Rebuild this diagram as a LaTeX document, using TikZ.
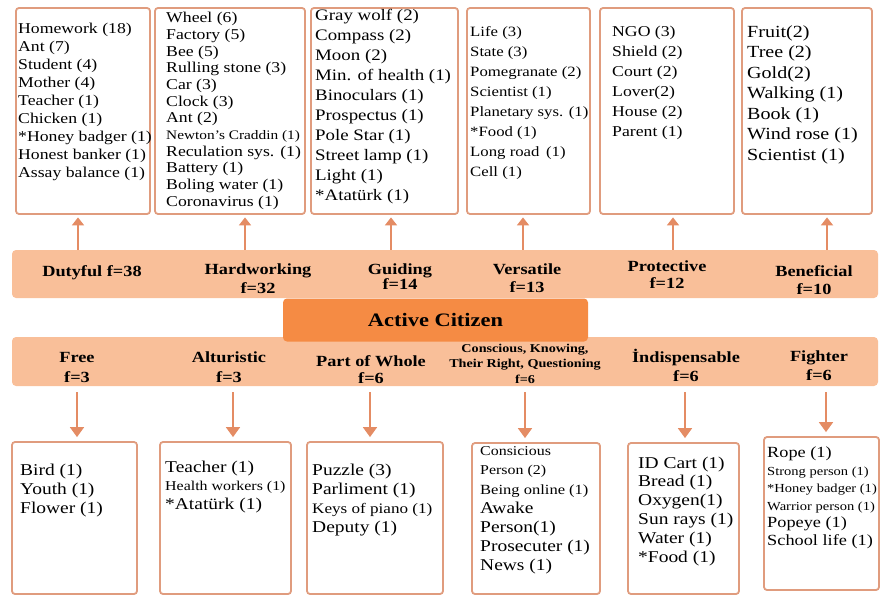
\documentclass[tikz,border=0pt]{standalone}
\usepackage{fontspec}
\setmainfont[FakeStretch=1.18]{Liberation Serif}
\usepackage{xcolor}
\usepackage{tikz}
\usetikzlibrary{arrows.meta}

\definecolor{bandorange}{RGB}{249,191,153}
\definecolor{citizenorange}{RGB}{245,139,68}
\definecolor{boxline}{RGB}{224,156,126}
\definecolor{arrowline}{RGB}{228,140,100}

\newcommand{\fs}[2]{\fontsize{#1}{#2}\selectfont}

\begin{document}
\begin{tikzpicture}[x=1pt, y=-1pt,
  listbox/.style={draw=boxline, line width=1.8pt, rounded corners=3pt, inner sep=0pt},
  listtext/.style={anchor=north west, inner sep=0pt, align=left},
  band/.style={fill=bandorange, rounded corners=4pt, inner sep=0pt},
  bandlabel/.style={inner sep=0pt, align=center, font=\fs{15.5}{19}\bfseries},
  uparrow/.style={draw=arrowline, line width=1.8pt, -{Triangle[width=12pt,length=8pt]}, shorten >=2.5pt},
  downarrow/.style={draw=arrowline, line width=1.8pt, -{Triangle[width=14pt,length=10pt]}, shorten <=6pt, shorten >=4pt}]

\useasboundingbox (0,0) rectangle (880,596);

\node[listbox, minimum width=134pt, minimum height=206pt] (t1) at (83,111) {};
\node[listbox, minimum width=150pt, minimum height=206pt] (t2) at (230,111) {};
\node[listbox, minimum width=147pt, minimum height=206pt] (t3) at (384.5,111) {};
\node[listbox, minimum width=123pt, minimum height=206pt] (t4) at (528.5,111) {};
\node[listbox, minimum width=134pt, minimum height=206pt] (t5) at (667,111) {};
\node[listbox, minimum width=130pt, minimum height=206pt] (t6) at (807,111) {};

\node[listtext, font=\fs{15}{18}] (dutyfullist) at (18,23) {Homework (18)\\Ant (7)\\Student (4)\\Mother (4)\\Teacher (1)\\Chicken (1)\\*Honey badger (1)\\Honest banker (1)\\Assay balance (1)};
\node[listtext, font=\fs{15}{16.7}] (hardlist) at (166,12) {Wheel (6)\\Factory (5)\\Bee (5)\\Rulling stone (3)\\Car (3)\\Clock (3)\\Ant (2)\\{\fs{13}{16.7}Newton's Craddin (1)}\\Reculation sys. (1)\\Battery (1)\\Boling water (1)\\Coronavirus (1)};
\node[listtext, font=\fs{16}{20}] (guidelist) at (315,8.6) {Gray wolf (2)\\Compass (2)\\Moon (2)\\Min. of health (1)\\Binoculars (1)\\Prospectus (1)\\Pole Star (1)\\Street lamp (1)\\Light (1)\\*Atatürk (1)};
\node[listtext, font=\fs{14.2}{20}] (versatilelist) at (470,26.3) {Life (3)\\State (3)\\Pomegranate (2)\\Scientist (1)\\Planetary sys. (1)\\*Food (1)\\Long road\, (1)\\Cell (1)};
\node[listtext, font=\fs{15}{20}] (protectlist) at (612,26) {NGO (3)\\Shield (2)\\Court (2)\\Lover(2)\\House (2)\\Parent (1)};
\node[listtext, font=\fs{17}{20.5}] (benefitlist) at (747,25.2) {Fruit(2)\\Tree (2)\\Gold(2)\\Walking (1)\\Book (1)\\Wind rose (1)\\Scientist (1)};

\node[band, minimum width=866pt, minimum height=48pt] (tband) at (445,274) {};
\node[band, minimum width=866pt, minimum height=49pt] (bband) at (445,361.5) {};
\node[band, fill=citizenorange, minimum width=305pt, minimum height=43pt, font=\fs{19}{22}\bfseries] (citizen) at (435.5,320) {Active Citizen};

\node[bandlabel] (dutyful) at (92,273) {Dutyful f=38};
\node[bandlabel] (hardworking) at (258,278.5) {Hardworking\\f=32};
\node[bandlabel, font=\fs{15.5}{13}\bfseries] (guiding) at (400,276.5) {Guiding\\f=14};
\node[bandlabel, font=\fs{15.5}{18}\bfseries] (versatile) at (527,278) {Versatile\\f=13};
\node[bandlabel, font=\fs{15.5}{17}\bfseries] (protective) at (667,274.5) {Protective\\f=12};
\node[bandlabel, font=\fs{15.5}{18}\bfseries] (beneficial) at (814,280) {Beneficial\\f=10};

\node[bandlabel, font=\fs{15.5}{20}\bfseries] (free) at (77,367) {Free\\f=3};
\node[bandlabel, font=\fs{15.5}{20}\bfseries] (alturistic) at (229,367) {Alturistic\\f=3};
\node[bandlabel, font=\fs{15.5}{17}\bfseries] (partwhole) at (371,369.5) {Part of Whole\\f=6};
\node[bandlabel, font=\fs{12}{15.5}\bfseries] (conscious) at (525,363.5) {Conscious, Knowing,\\Their Right, Questioning\\f=6};
\node[bandlabel] (indispensable) at (686,365.5) {İndispensable\\f=6};
\node[bandlabel] (fighter) at (819,365.5) {Fighter\\f=6};

\node[listbox, minimum width=125pt, minimum height=152pt] (b1) at (74.5,518) {};
\node[listbox, minimum width=131pt, minimum height=152pt] (b2) at (225.5,518) {};
\node[listbox, minimum width=136pt, minimum height=152pt] (b3) at (375,518) {};
\node[listbox, minimum width=128pt, minimum height=151pt] (b4) at (536,518.5) {};
\node[listbox, minimum width=111pt, minimum height=151pt] (b5) at (683.5,518.5) {};
\node[listbox, minimum width=115pt, minimum height=153pt] (b6) at (821.5,513.5) {};

\node[listtext, font=\fs{16.5}{19}] (freelist) at (20,463.4) {Bird (1)\\Youth (1)\\Flower (1)};
\node[listtext, font=\fs{16.5}{18.5}] (alturlist) at (165,460.4) {Teacher (1)\\{\fs{13.5}{18.5}Health workers (1)}\\*Atatürk (1)};
\node[listtext, font=\fs{16.5}{19.3}] (partlist) at (312,463.4) {Puzzle (3)\\Parliment (1)\\{\fs{14.5}{19.3}Keys of piano (1)}\\Deputy (1)};
\node[listtext, font=\fs{16.5}{19.2}] (consciouslist) at (480,446.6) {{\fs{13.5}{19.2}Consicious}\\{\fs{13.5}{19.2}Person (2)}\\{\fs{14}{19.2}Being online (1)}\\Awake\\Person(1)\\Prosecuter (1)\\News (1)};
\node[listtext, font=\fs{16.5}{18.8}] (indisplist) at (638,456.4) {ID Cart (1)\\Bread (1)\\Oxygen(1)\\Sun rays (1)\\Water (1)\\*Food (1)};
\node[listtext, font=\fs{15.5}{17.5}] (fighterlist) at (767,446.8) {Rope (1)\\{\fs{12.3}{17.5}Strong person (1)}\\{\fs{12.3}{17.5}*Honey badger (1)}\\{\fs{12.3}{17.5}Warrior person (1)}\\Popeye (1)\\School life (1)};

\draw[uparrow] (tband.north -| 78,0) -- (t1.south -| 78,0);
\draw[uparrow] (tband.north -| 245,0) -- (t2.south -| 245,0);
\draw[uparrow] (tband.north -| 391,0) -- (t3.south -| 391,0);
\draw[uparrow] (tband.north -| 523,0) -- (t4.south -| 523,0);
\draw[uparrow] (tband.north -| 673,0) -- (t5.south -| 673,0);
\draw[uparrow] (tband.north -| 827,0) -- (t6.south -| 827,0);

\draw[downarrow] (bband.south -| 77,0) -- (b1.north -| 77,0);
\draw[downarrow] (bband.south -| 233,0) -- (b2.north -| 233,0);
\draw[downarrow] (bband.south -| 370,0) -- (b3.north -| 370,0);
\draw[downarrow] (bband.south -| 525,0) -- (b4.north -| 525,0);
\draw[downarrow] (bband.south -| 685,0) -- (b5.north -| 685,0);
\draw[downarrow] (bband.south -| 826,0) -- (b6.north -| 826,0);

\end{tikzpicture}
\end{document}
